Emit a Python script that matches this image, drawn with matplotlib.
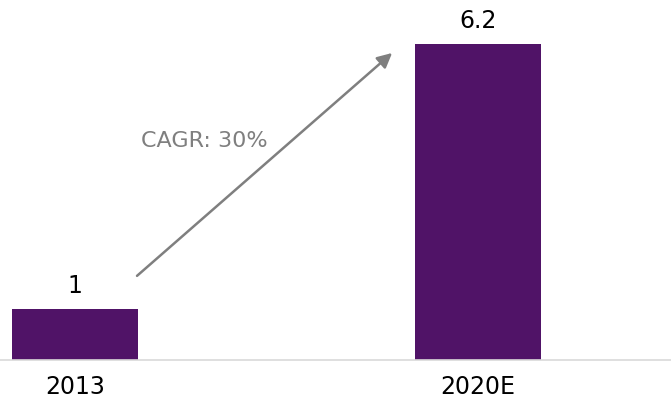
import matplotlib
matplotlib.use("Agg")
import matplotlib.pyplot as plt

categories = ["2013", "2020E"]
values = [1, 6.2]
labels = ["1", "6.2"]
cagr_text = "CAGR: 30%"

bar_color = "#501367"
grey = "#7f7f7f"

fig = plt.figure(figsize=(6.71, 4.07), dpi=100)
ax = fig.add_axes([0, 47 / 407, 1, 360 / 407])

x = list(range(len(categories)))
ax.bar(x, values, width=0.313, color=bar_color, zorder=2)

# value labels above bars
for xi, v, lab in zip(x, values, labels):
    ax.annotate(lab, (xi, v), xytext=(0, 8), textcoords="offset points",
                ha="center", va="bottom", fontsize=17, color="black")

# growth arrow
ax.annotate("", xy=(0.787, values[1] - 0.18), xytext=(0.154, values[0] + 0.65),
            arrowprops=dict(arrowstyle="-|>", color=grey, lw=1.8,
                            mutation_scale=22, shrinkA=0, shrinkB=0))
ax.text(0.32, 4.3, cagr_text, ha="center", va="center", fontsize=16, color=grey)

ax.set_xlim(-0.186, 1.479)
ax.set_ylim(0, 360 / 51)
ax.set_xticks(x)
ax.set_xticklabels(categories, fontsize=17)
ax.tick_params(axis="x", length=0, pad=11)
ax.set_yticks([])
for s in ["top", "right", "left"]:
    ax.spines[s].set_visible(False)
ax.spines["bottom"].set_color("#d9d9d9")
ax.spines["bottom"].set_linewidth(1.2)

fig.savefig("out.png", dpi=100)
